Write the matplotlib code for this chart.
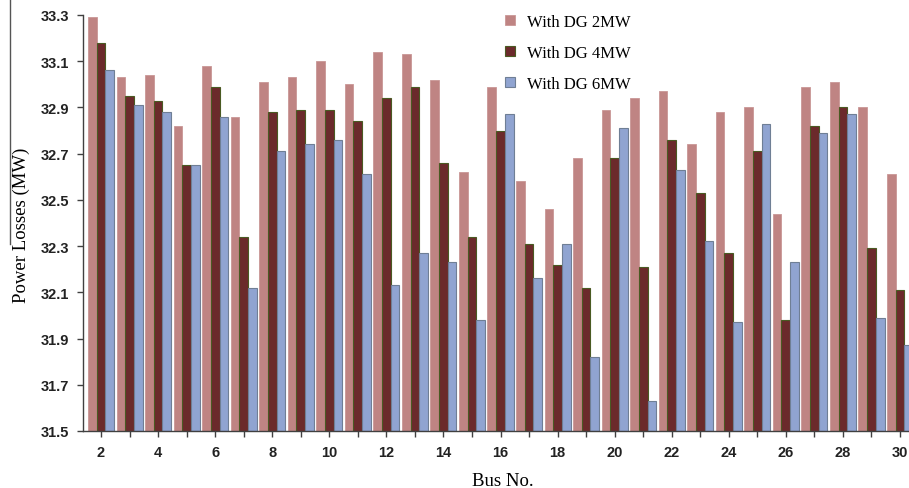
import matplotlib
matplotlib.use("Agg")
import matplotlib.pyplot as plt
import numpy as np
from matplotlib.lines import Line2D

buses = list(range(2, 31))
dg_2mw = [33.29, 33.03, 33.04, 32.82, 33.08, 32.86, 33.01, 33.03, 33.10, 33.00,
          33.14, 33.13, 33.02, 32.62, 32.99, 32.58, 32.46, 32.68, 32.89, 32.94,
          32.97, 32.74, 32.88, 32.90, 32.44, 32.99, 33.01, 32.90, 32.61]
dg_4mw = [33.18, 32.95, 32.93, 32.65, 32.99, 32.34, 32.88, 32.89, 32.89, 32.84,
          32.94, 32.99, 32.66, 32.34, 32.80, 32.31, 32.22, 32.12, 32.68, 32.21,
          32.76, 32.53, 32.27, 32.71, 31.98, 32.82, 32.90, 32.29, 32.11]
dg_6mw = [33.06, 32.91, 32.88, 32.65, 32.86, 32.12, 32.71, 32.74, 32.76, 32.61,
          32.13, 32.27, 32.23, 31.98, 32.87, 32.16, 32.31, 31.82, 32.81, 31.63,
          32.63, 32.32, 31.97, 32.83, 32.23, 32.79, 32.87, 31.99, 31.87]
series_labels = ["With DG 2MW", "With DG 4MW", "With DG 6MW"]
yticks = [31.5, 31.7, 31.9, 32.1, 32.3, 32.5, 32.7, 32.9, 33.1, 33.3]

fig = plt.figure(figsize=(9.09, 4.89), dpi=100)
ax = fig.add_axes([83/909, 57/489, 1 - 83/909, (432-16)/489])

x = np.array(buses, dtype=float)
w = 0.305
base = 31.5
c1, c2, c3 = "#BF8483", "#6B2A2B", "#90A4D1"
ax.bar(x - w, np.array(dg_2mw) - base, w, bottom=base, color=c1, edgecolor="#C99696", linewidth=0.6, label=series_labels[0])
ax.bar(x, np.array(dg_4mw) - base, w, bottom=base, color=c2, edgecolor="#4A5A22", linewidth=0.8, label=series_labels[1])
ax.bar(x + w, np.array(dg_6mw) - base, w, bottom=base, color=c3, edgecolor="#6F7F95", linewidth=0.8, label=series_labels[2])

ax.set_xlim(1.368, 30.316)
ax.set_ylim(31.5, 33.3)
ax.set_yticks(yticks)
ax.set_yticklabels([f"{v:.1f}" for v in yticks])
ax.set_xticks(buses)
ax.set_xticklabels([str(b) if b % 2 == 0 else "" for b in buses])

for s in ["top", "right"]:
    ax.spines[s].set_visible(False)
for s in ["left", "bottom"]:
    ax.spines[s].set_color("#404040")
    ax.spines[s].set_linewidth(1.0)
ax.tick_params(axis="both", direction="out", length=4, width=1, color="#404040", pad=6)
for lab in ax.get_xticklabels() + ax.get_yticklabels():
    lab.set_fontfamily("Liberation Sans")
    lab.set_fontweight("bold")
    lab.set_fontsize(10.5)
    lab.set_color("#222222")

ax.set_xlabel("Bus No.", fontfamily="Liberation Serif", fontsize=13.5)
ax.xaxis.set_label_coords((503 - 83) / (909 - 83), -(473 - 432) / 416)
ax.set_ylabel("Power Losses (MW)", fontfamily="Liberation Serif", fontsize=13.5)
ax.yaxis.set_label_coords(-(83 - 30) / (909 - 83), (432 - 225) / 416)

leg = ax.legend(loc="upper left", bbox_to_anchor=(490/909, 1 - 0/489), bbox_transform=fig.transFigure,
                frameon=False, prop={"family": "Liberation Serif", "size": 12},
                handlelength=0.6, handleheight=0.6, handletextpad=0.7, labelspacing=0.9)

fig.add_artist(Line2D([10/909, 10/909], [1 - 245/489, 1.0], color="#555555", linewidth=1.0, transform=fig.transFigure))

fig.savefig("out.png", dpi=100)
